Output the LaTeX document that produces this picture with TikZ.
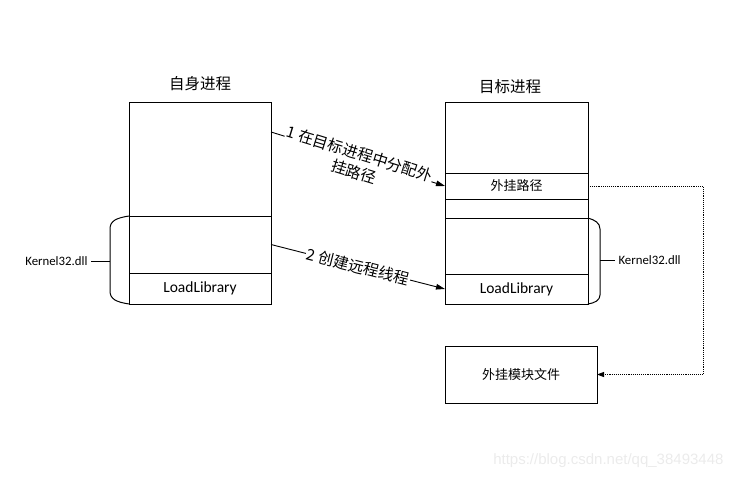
\documentclass[tikz,border=0pt]{standalone}
\usepackage{fontspec}
\setmainfont{Carlito}
\newfontfamily\cjk{Noto Sans CJK SC}
\newfontfamily\wm{Liberation Sans}
\usetikzlibrary{arrows.meta}
\tikzset{
  part/.style={draw, line width=1pt, anchor=north west, inner sep=0pt, outer sep=0pt, minimum width=#1},
  part/.default=142pt,
  big/.style={font=\fontsize{15.5}{18}\selectfont},
  small/.style={font=\fontsize{12.8}{15}\selectfont},
  bigcjk/.style={font=\fontsize{15.5}{19}\selectfont\cjk},
  smallcjk/.style={font=\fontsize{13}{16}\selectfont\cjk},
  conn/.style={line width=0.9pt, -{Triangle[length=9pt,width=5.5pt]}},
  brace/.style={line width=1pt},
  dotconn/.style={line width=0.9pt, densely dotted, -{Triangle[length=7pt,width=5pt]}}
}
\begin{document}
\begin{tikzpicture}[x=1pt,y=-1pt]
\useasboundingbox (0,0) rectangle (735,479);
% left process
\node[part, minimum height=114pt] (L1) at (129,102) {};
\node[part, minimum height=57pt] (L2) at (129,216) {};
\node[part, minimum height=31pt, big] (L3) at (129,273) {LoadLibrary};
\node[bigcjk] (Lt) at (200,84) {自身进程};
% right process
\node[part=143pt, minimum height=71pt] (R1) at (445,102) {};
\node[part=143pt, minimum height=26pt, smallcjk] (R2) at (445,173) {外挂路径};
\node[part=143pt, minimum height=19pt] (R3) at (445,199) {};
\node[part=143pt, minimum height=56pt] (R4) at (445,218) {};
\node[part=143pt, minimum height=30pt, big] (R5) at (445,274) {LoadLibrary};
\node[bigcjk] (Rt) at (510,87) {目标进程};
% module file
\node[part=152pt, minimum height=57pt, smallcjk] (M) at (445,346) {外挂模块文件};
% left brace
\draw[brace] (L2.north west) .. controls (116,218) and (110,221) .. (110,229) -- (110,291) .. controls (110,299) and (116,302) .. (L3.south west);
\coordinate (lb) at (110,261);
\node[small, anchor=east] (Lk) at (91,261) {Kernel32.dll};
\draw[brace] (lb) -- (Lk.east);
% right brace
\draw[brace] (R4.north east) .. controls (595,220) and (600,223) .. (600,229) -- (600,295) .. controls (600,300) and (595,303) .. (R5.south east);
\coordinate (rb) at (600,260);
\node[small, anchor=west] (Rk) at (615,260) {Kernel32.dll};
\draw[brace] (rb) -- (Rk.west);
% arrows
\coordinate (a1) at (271,132);
\draw[conn] (a1) -- (R2.west) node[midway, sloped, fill=white, inner sep=1pt, align=center, bigcjk, yshift=-4pt] (T1) {1 在目标进程中分配外\\挂路径};
\draw[conn] (L2.east) -- (R5.west) node[midway, sloped, fill=white, inner sep=1pt, bigcjk] (T2) {2 创建远程线程};
% dotted
\coordinate (dc) at (703,186);
\draw[dotconn] (R2.east) -- (dc) |- (M.east);
% watermark
\node[font=\fontsize{15}{18}\selectfont\wm, text=black!8, anchor=east] (W) at (727,461) {https://blog.csdn.net/qq\_38493448};
\end{tikzpicture}
\end{document}
